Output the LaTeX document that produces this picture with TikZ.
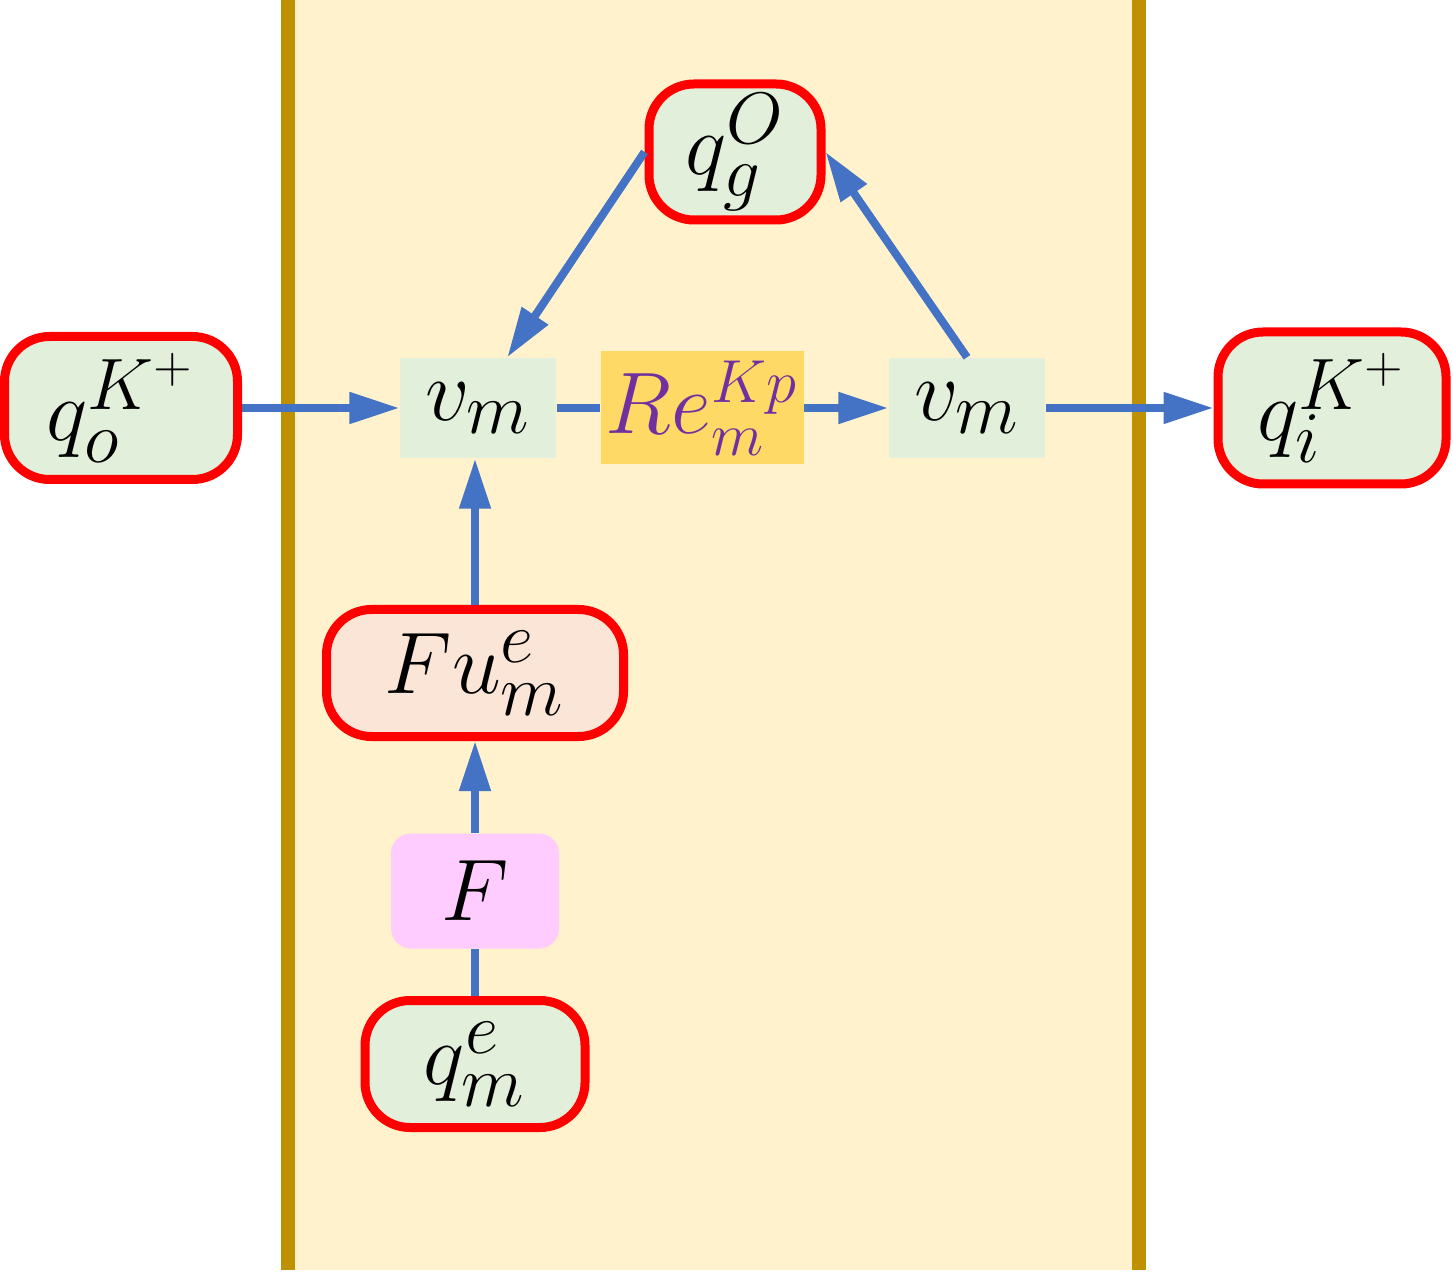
\documentclass[tikz,border=0pt]{standalone}
\usepackage{tikz}
\usetikzlibrary{arrows.meta,positioning,calc}

\definecolor{bandfill}{HTML}{FFF2CC}
\definecolor{bandline}{HTML}{BF9000}
\definecolor{nodegreen}{HTML}{E2EFDA}
\definecolor{nodepeach}{HTML}{FBE5D6}
\definecolor{nodepink}{HTML}{FFCCFF}
\definecolor{nodegold}{HTML}{FFD966}
\definecolor{flowblue}{HTML}{4472C4}
\definecolor{repurple}{HTML}{7030A0}

\tikzset{
    state/.style={draw=red, line width=0.09cm, rounded corners=0.45cm, fill=nodegreen, inner sep=0pt},
    velbox/.style={fill=nodegreen, minimum width=1.56cm, minimum height=1cm, inner sep=0pt},
    flow/.style={draw=flowblue, line width=0.08cm, -{Triangle[length=0.5cm,width=0.3cm]}},
    flowline/.style={draw=flowblue, line width=0.08cm}
}

\begin{document}
\begin{tikzpicture}[every node/.style={font=\fontsize{28}{32}\selectfont}]
    \useasboundingbox (0,0) rectangle (14.53,-12.77);

    % Band with its two walls
    \fill[bandfill] (2.82,0) rectangle (11.46,-12.70);
    \draw[bandline, line width=0.14cm] (2.875,0) -- (2.875,-12.70);
    \draw[bandline, line width=0.14cm] (11.39,0) -- (11.39,-12.70);

    % Middle row
    \node[state, minimum width=2.33cm, minimum height=1.43cm] (qo) at (1.21,-4.08) {$q_o^{K^+}$};
    \node[velbox] (vm1) at (4.78,-4.08) {$v_m$};
    \node[fill=nodegold, text=repurple, inner sep=0pt, minimum width=2.03cm, minimum height=1.13cm,
          font=\fontsize{26}{30}\selectfont] (re) at (7.02,-4.08) {$Re_m^{Kp}$};
    \node[velbox] (vm2) at (9.67,-4.08) {$v_m$};
    \node[state, minimum width=2.28cm, minimum height=1.52cm] (qi) at (13.32,-4.08) {$q_i^{K^+}$};

    % Top
    \node[state, minimum width=1.72cm, minimum height=1.36cm] (qg) at (7.35,-1.52) {$q_g^O$};

    % Column below
    \node[state, fill=nodepeach, minimum width=2.97cm, minimum height=1.27cm] (fu) at (4.75,-6.73) {$Fu_m^e$};
    \node[fill=nodepink, rounded corners=0.2cm, inner sep=0pt, minimum width=1.68cm, minimum height=1.15cm] (f) at (4.75,-8.91) {$F$};
    \node[state, minimum width=2.2cm, minimum height=1.27cm] (qm) at (4.75,-10.64) {$q_m^e$};

    % Connectors
    \draw[flow] (qo) -- (vm1);
    \draw[flowline] (vm1) -- (re);
    \draw[flow] (re) -- (vm2);
    \draw[flow] (vm2) -- (qi);
    \draw[flow] (qg.west) -- (vm1.60);
    \draw[flow] (vm2.north) -- (qg.east);
    \draw[flow] (fu.north) -- (fu.north |- vm1.south);
    \draw[flow] (f) -- (fu);
    \draw[flowline] (qm) -- (f);
\end{tikzpicture}
\end{document}
